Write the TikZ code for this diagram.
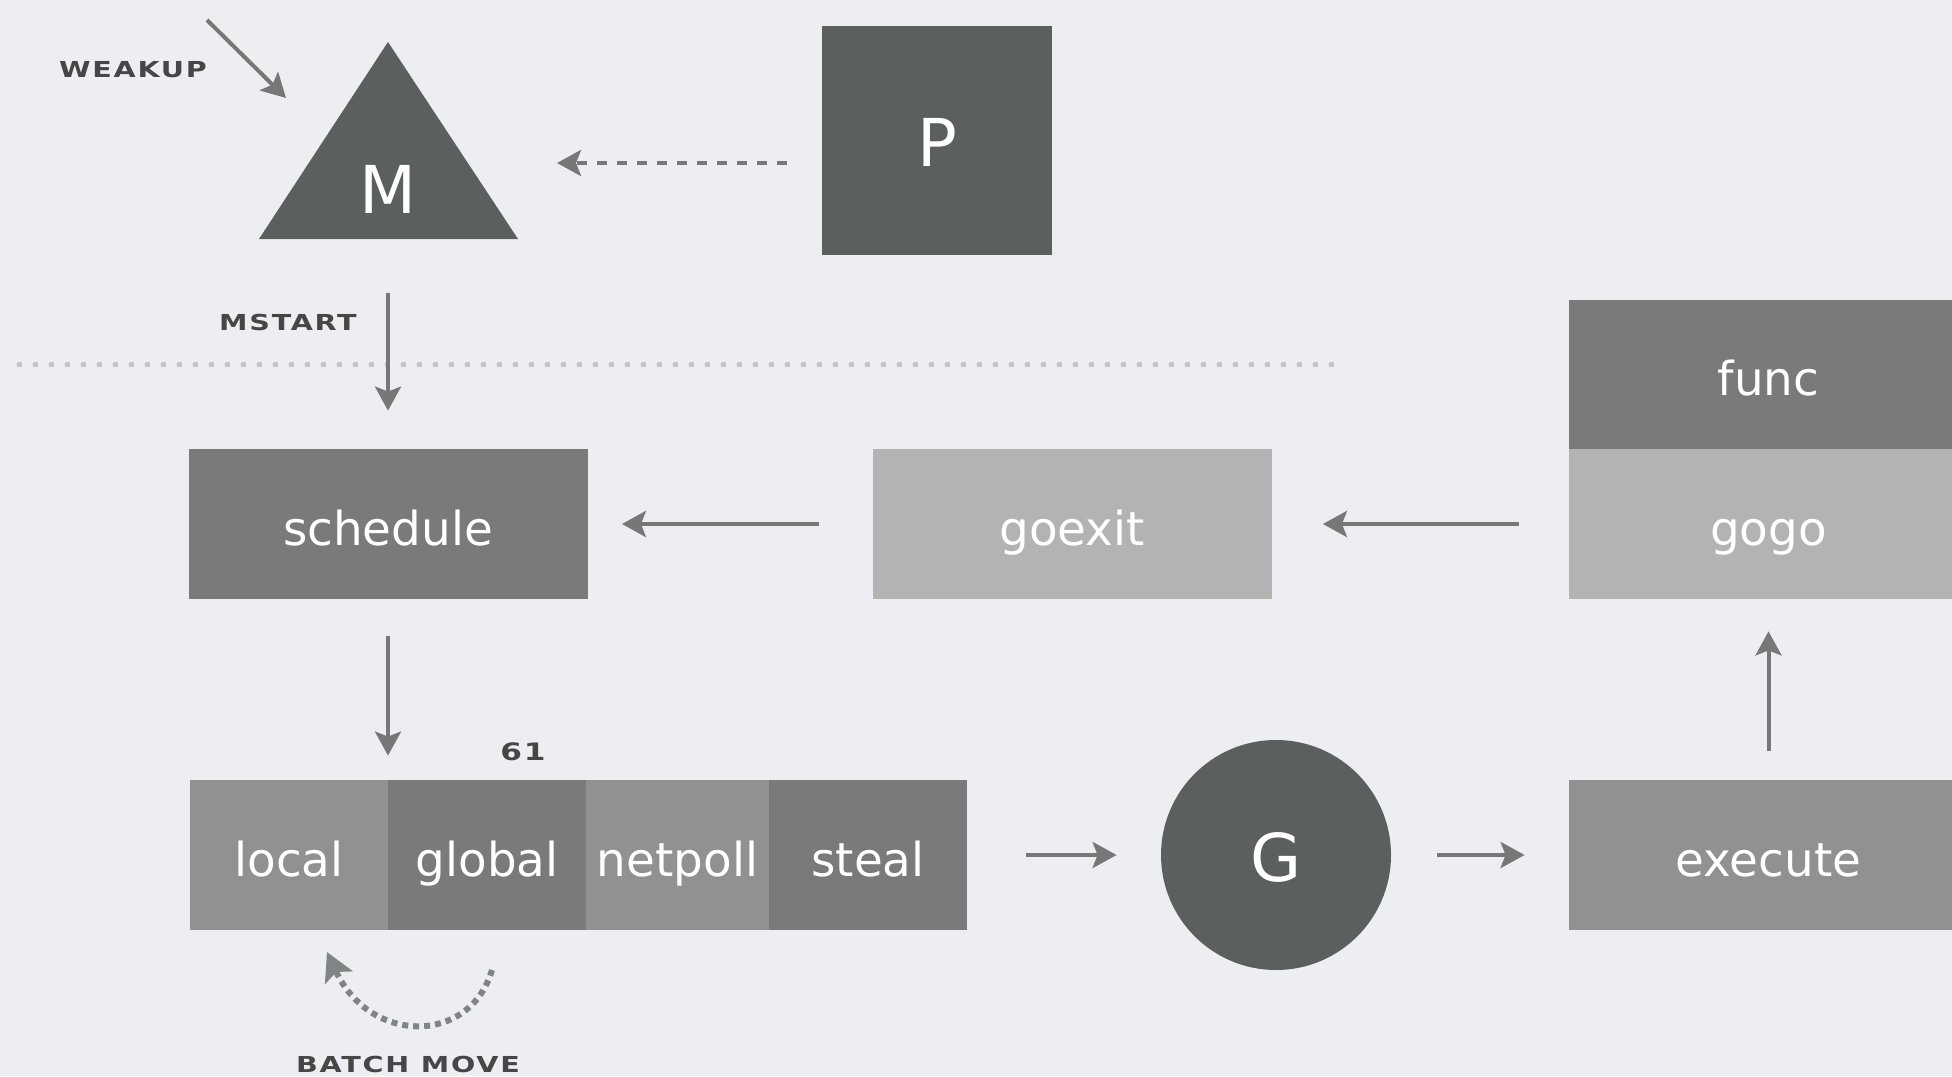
\documentclass[tikz,border=0pt]{standalone}
\usepackage{fontspec}
\setmainfont{DejaVu Sans}
\newfontfamily\capsfont[FakeStretch=1.3,LetterSpace=8]{DejaVu Sans}
\usetikzlibrary{arrows.meta}
\definecolor{bgcol}{HTML}{EDEEF1}
\definecolor{darkcol}{HTML}{5B5F5D}
\definecolor{midcol}{HTML}{7A7A7A}
\definecolor{cellcol}{HTML}{919191}
\definecolor{lightcol}{HTML}{B3B3B3}
\definecolor{arrcol}{HTML}{777777}
\definecolor{labcol}{HTML}{464646}
\definecolor{sepcol}{HTML}{C2C4C6}
\definecolor{movecol}{HTML}{7E8584}
\tikzset{
  box/.style={fill=#1, text=white, inner sep=0pt, minimum width=199.5pt,
    minimum height=75pt, text height=21pt, text depth=0pt,
    font=\fontsize{23.4}{28}\selectfont},
  letter/.style={text=white, text height=26pt, text depth=0pt,
    font=\fontsize{33}{40}\selectfont},
  caps/.style={text=labcol, inner sep=0pt, font=\capsfont\bfseries\fontsize{11}{13}\selectfont},
  flow/.style={draw=arrcol, line width=2pt,
    -{Stealth[length=12pt,width=13pt,inset=2.5pt]}},
  sepline/.style={draw=sepcol, line width=2.5pt, dash pattern=on 2.5pt off 5.5pt},
}
\begin{document}
\begin{tikzpicture}[x=0.5pt,y=-0.5pt]
  \clip (0,0) rectangle (1952,1076);
  \fill[bgcol] (0,0) rectangle (1952,1076);
  % M and P
  \fill[darkcol] (388,42) -- (518,239) -- (259,239) -- cycle;
  \coordinate (mbase) at (388,239);
  \coordinate (mside) at (557,163);
  \node[letter] (M) at (388,187) {M};
  \node[box=darkcol, minimum width=115pt, minimum height=114.5pt, letter] (P) at (937,140.5) {P};
  \node[caps] (weakup) at (133,70) {WEAKUP};
  \coordinate (wkfrom) at (207,20);
  \coordinate (wkto) at (286,98);
  \node[caps] (mstart) at (288,322) {MSTART};
  \draw[sepline] (17,364) -- (1335,364);
  % upper row
  \node[box=midcol] (schedule) at (388,524) {schedule};
  \node[box=lightcol] (goexit) at (1072,524) {goexit};
  \node[box=midcol] (func) at (1768.5,374.5) {func};
  \node[box=lightcol] (gogo) at (1768.5,524) {gogo};
  % lower row
  \node[box=cellcol, minimum width=99pt] (local) at (289,855) {local};
  \node[box=midcol, minimum width=99pt] (global) at (487,855) {global};
  \node[box=cellcol, minimum width=91.5pt] (netpoll) at (677.5,855) {netpoll};
  \node[box=midcol, minimum width=99pt] (steal) at (868,855) {steal};
  \node[caps, font=\capsfont\bfseries\fontsize{12}{14}\selectfont] (num) at (523,752) {61};
  \node[circle, fill=darkcol, minimum size=115pt, inner sep=0pt, letter] (G) at (1276,855) {G};
  \node[box=cellcol] (execute) at (1768.5,855) {execute};
  \coordinate (bmfrom) at (492,970);
  \coordinate (bmto) at (327,952);
  \node[caps] (batch) at (408,1064) {BATCH MOVE};
  \begin{scope}
    \draw[flow] (wkfrom) -- (wkto);
    \draw[flow, dash pattern=on 5pt off 5pt, shorten <=17.5pt] (P.west |- mside) -- (mside);
    \draw[flow, shorten <=27pt, shorten >=19pt] (mbase) -- (schedule.north);
    \draw[flow, shorten <=26.5pt, shorten >=17pt] (goexit) -- (schedule);
    \draw[flow, shorten <=25pt, shorten >=25.5pt] (gogo) -- (goexit);
    \draw[flow, shorten <=18.5pt, shorten >=12pt] (schedule.south) -- (schedule.south |- local.north);
    \draw[flow, shorten <=29.5pt, shorten >=22pt] (steal.east) -- (G.west);
    \draw[flow, shorten <=23pt, shorten >=22pt] (G.east) -- (execute.west);
    \draw[flow, shorten <=14.5pt, shorten >=16pt] (execute.north) -- (gogo.south);
    \draw[draw=movecol, line width=3pt, dash pattern=on 3pt off 2.5pt,
      -{Stealth[length=14pt,width=15pt,inset=3pt]}]
      (bmfrom) .. controls (470,1045) and (370,1045) .. (bmto);
  \end{scope}
\end{tikzpicture}
\end{document}
